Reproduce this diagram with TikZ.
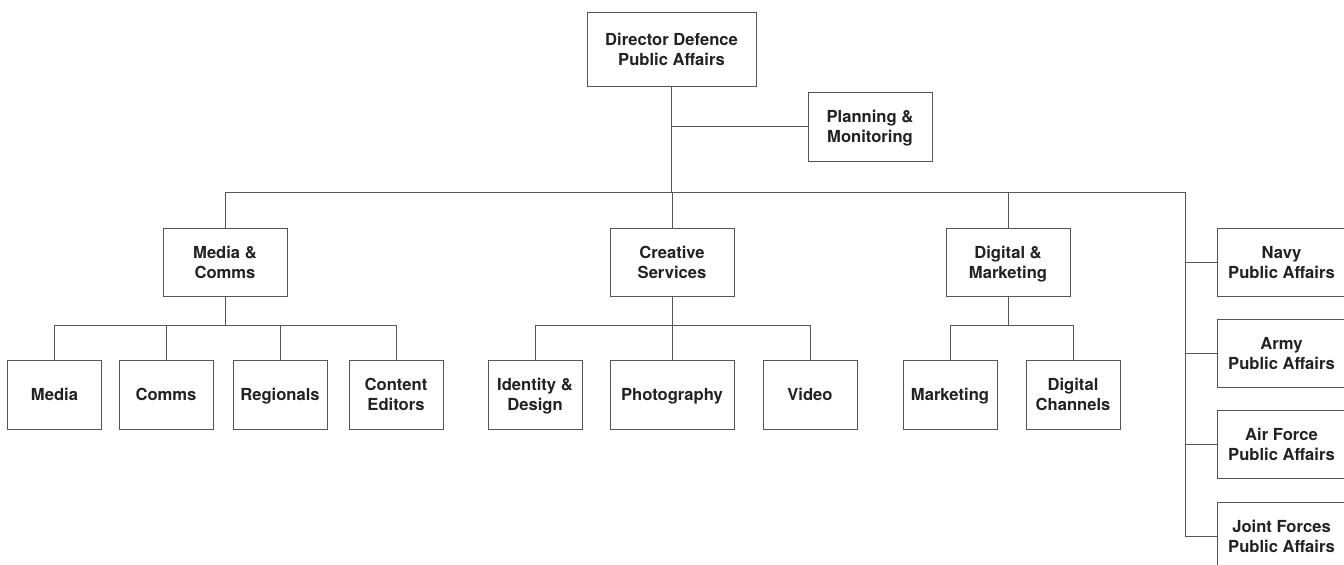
\documentclass[tikz,border=0pt]{standalone}
\usepackage{fontspec}
\setmainfont{TeX Gyre Heros}
\usepackage{tikz}
\usetikzlibrary{positioning}
\definecolor{linegray}{HTML}{555555}
\definecolor{textgray}{HTML}{222222}
\tikzset{
	unit box/.style={draw=linegray,line width=0.5pt,align=center,inner sep=0pt,
		text=textgray,font=\fontsize{8.3}{10}\selectfont\bfseries,
		text depth=0pt,minimum height=34pt},
	wide box/.style={unit box,minimum width=62pt},
	small box/.style={unit box,minimum width=47pt},
	side box/.style={unit box,minimum width=64.5pt},
	link/.style={draw=linegray,line width=0.5pt}
}

\begin{document}
\begin{tikzpicture}[x=0.5pt,y=-0.5pt]
	\useasboundingbox (0,0) rectangle (1344,564);
	% top
	\node [unit box,minimum width=84.5pt,minimum height=37pt] (dir) at (671.5,49) {Director Defence\\Public Affairs};
	\node [wide box,minimum height=34.5pt] (plan) at (870,126.5) {Planning \&\\Monitoring};
	% departments
	\node [wide box] (mc) at (225,262) {Media \&\\Comms};
	\node [wide box] (cs) at (672,262) {Creative\\Services};
	\node [wide box] (dm) at (1008,262) {Digital \&\\Marketing};
	% teams
	\node [small box,minimum height=34.5pt] (media) at (54.5,394.5) {Media};
	\node [small box,minimum height=34.5pt] (comms) at (166,394.5) {Comms};
	\node [small box,minimum height=34.5pt] (reg) at (280,394.5) {Regionals};
	\node [small box,minimum height=34.5pt] (ce) at (396,394.5) {Content\\Editors};
	\node [small box,minimum height=34.5pt] (id) at (535,394.5) {Identity \&\\Design};
	\node [wide box,minimum height=34.5pt] (photo) at (672,394.5) {Photography};
	\node [small box,minimum height=34.5pt] (video) at (810,394.5) {Video};
	\node [small box,minimum height=34.5pt] (mkt) at (950,394.5) {Marketing};
	\node [small box,minimum height=34.5pt] (dc) at (1073,394.5) {Digital\\Channels};
	% services
	\node [side box] (navy) at (1281.5,262) {Navy\\Public Affairs};
	\node [side box] (army) at (1281.5,353) {Army\\Public Affairs};
	\node [side box] (af) at (1281.5,444) {Air Force\\Public Affairs};
	\node [side box] (jf) at (1281.5,536) {Joint Forces\\Public Affairs};
	% junctions
	\coordinate (hub) at (671.5,192);
	\coordinate (rt) at (1185,192);
	\coordinate (mcj) at (225,325);
	\coordinate (csj) at (672,325);
	\coordinate (dmj) at (1008,325);
	% connectors
	\draw [link] (dir.south) -- (hub);
	\draw [link] (dir.south |- plan.west) -- (plan.west);
	\draw [link] (mc.north) |- (rt);
	\foreach \n in {cs,dm}
		\draw [link] (hub) -| (\n.north);
	\foreach \n in {navy,army,af,jf}
		\draw [link] (rt) |- (\n.west);
	\draw [link] (mc.south) -- (mcj);
	\foreach \n in {media,comms,reg,ce}
		\draw [link] (mcj) -| (\n.north);
	\draw [link] (cs.south) -- (csj);
	\foreach \n in {id,photo,video}
		\draw [link] (csj) -| (\n.north);
	\draw [link] (dm.south) -- (dmj);
	\foreach \n in {mkt,dc}
		\draw [link] (dmj) -| (\n.north);
\end{tikzpicture}
\end{document}
